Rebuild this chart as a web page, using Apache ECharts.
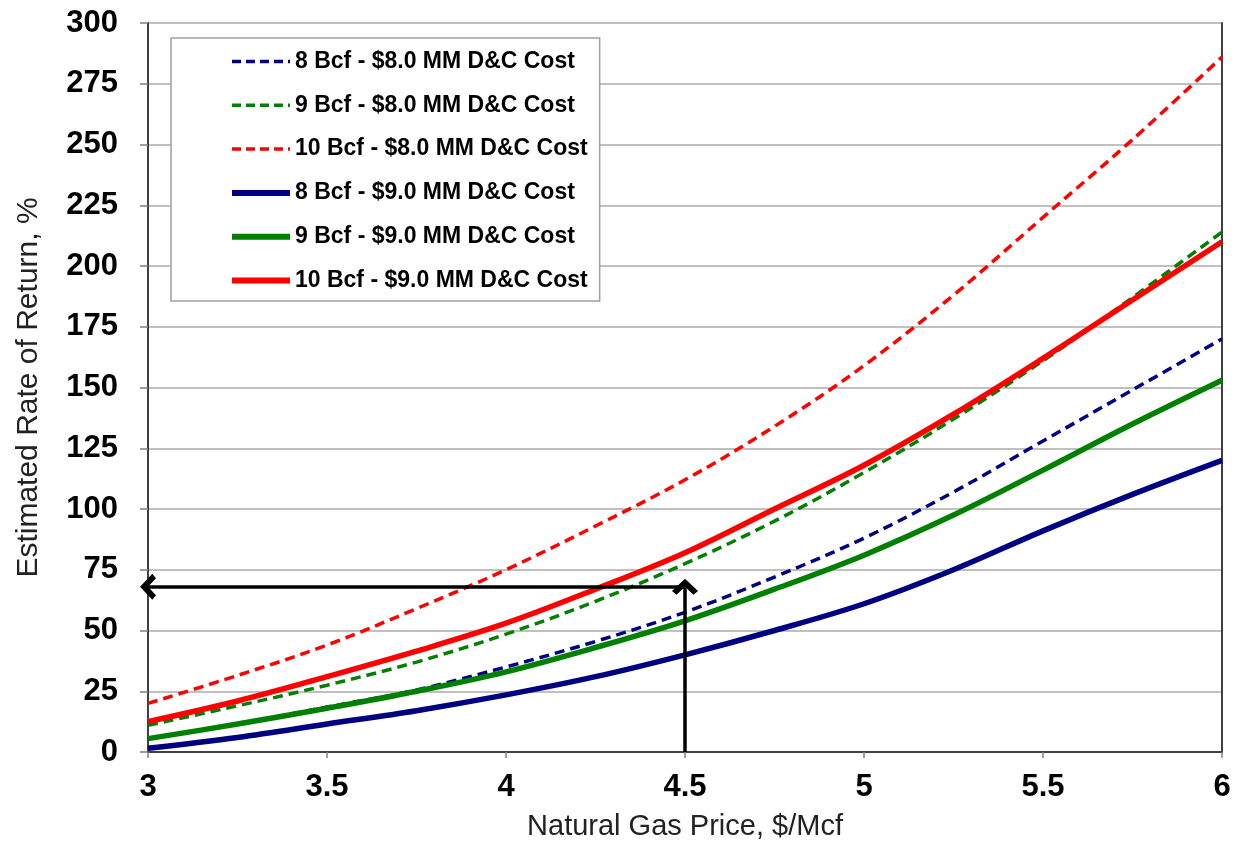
<!DOCTYPE html>
<html>
<head>
<meta charset="utf-8">
<script src="https://cdn.jsdelivr.net/npm/echarts@6/dist/echarts.min.js"></script>
<style>
html,body{margin:0;padding:0;background:#fff;}
#chart{width:1240px;height:846px;}
</style>
</head>
<body>
<div id="chart"></div>
<script>
const prices = [3, 3.25, 3.5, 3.75, 4, 4.25, 4.5, 4.75, 5, 5.25, 5.5, 5.75, 6];
const blue8 = [5.5, 11.5, 18.5, 25.5, 35, 45.5, 57.5, 72, 88, 107, 128, 149, 170];
const green8 = [11, 19, 27.5, 37, 48.5, 62, 77.5, 95, 115, 137, 161, 187, 214];
const red8 = [20, 31.5, 44, 59, 75, 93, 112, 134, 159, 188, 220, 252, 286];
const blue9 = [1.5, 6, 11.5, 17, 23.5, 31, 40, 50, 61, 75, 91, 106, 120];
const green9 = [5.5, 11.5, 18, 25, 33, 43, 54, 67, 81, 97.5, 116, 135, 153];
const red9 = [12.5, 21, 31, 41.5, 53, 67, 82, 100, 118, 139, 162, 186, 210];
const seriesNames = [
  '8 Bcf - $8.0 MM D&C Cost',
  '9 Bcf - $8.0 MM D&C Cost',
  '10 Bcf - $8.0 MM D&C Cost',
  '8 Bcf - $9.0 MM D&C Cost',
  '9 Bcf - $9.0 MM D&C Cost',
  '10 Bcf - $9.0 MM D&C Cost'
];
const arrowPrice = 4.5;
const arrowROR = 68;
const xMin = 3, xMax = 6, xStep = 0.5;
const yMin = 0, yMax = 300, yStep = 25;

const FONT = "'Liberation Sans', Arial, Helvetica, sans-serif";
const colors = ['#000080', '#008000', '#FF0000'];
const allData = [blue8, green8, red8, blue9, green9, red9];

function pairs(arr) { return prices.map((p, i) => [p, arr[i]]); }

const chevron = 'path://M0,10 L10,0 L20,10 L16.5,13 L10,6.5 L3.5,13 Z';

const series = allData.map((arr, i) => {
  const dashed = i < 3;
  return {
    name: seriesNames[i],
    type: 'line',
    data: pairs(arr),
    smooth: 0.35,
    symbol: 'none',
    silent: true,
    lineStyle: {
      color: colors[i % 3],
      width: dashed ? 3.5 : 5.5,
      type: dashed ? [10, 6] : 'solid'
    },
    itemStyle: { color: colors[i % 3] },
    z: dashed ? 2 : 3
  };
});

series.push({
  name: 'arrows',
  type: 'line',
  data: [],
  silent: true,
  markLine: {
    silent: true,
    symbol: ['none', chevron],
    symbolSize: [26, 16],
    label: { show: false },
    lineStyle: { color: '#000', width: 3.5, type: 'solid' },
    emphasis: { disabled: true },
    animation: false,
    data: [
      [{ coord: [arrowPrice, yMin] }, { coord: [arrowPrice, arrowROR] }],
      [{ coord: [arrowPrice, arrowROR] }, { coord: [xMin, arrowROR] }]
    ]
  },
  z: 4
});

const legendData = seriesNames.map((n, i) => ({
  name: n,
  lineStyle: { width: i < 3 ? 3.5 : 6, type: i < 3 ? [9, 5] : 'solid' }
}));

const chart = echarts.init(document.getElementById('chart'), null, { renderer: 'canvas' });
chart.setOption({
  animation: false,
  backgroundColor: '#fff',
  textStyle: { fontFamily: FONT },
  grid: { left: 148, top: 23, right: 18, bottom: 94, containLabel: false },
  legend: {
    data: legendData,
    orient: 'vertical',
    left: 171,
    top: 38,
    itemWidth: 58,
    itemHeight: 22,
    itemGap: 20.8,
    itemTextGap: 4,
    padding: [12, 12, 9, 58],
    borderColor: '#a0a0a0',
    borderWidth: 1.5,
    backgroundColor: '#fff',
    selectedMode: false,
    itemStyle: { opacity: 0 },
    textStyle: { fontFamily: FONT, fontSize: 23, fontWeight: 'bold', color: '#000' }
  },
  xAxis: {
    type: 'value',
    min: xMin, max: xMax, interval: xStep,
    name: 'Natural Gas Price, $/Mcf',
    nameLocation: 'middle',
    nameGap: 60,
    nameTextStyle: { fontFamily: FONT, fontSize: 29, color: '#222' },
    axisLine: { show: true, lineStyle: { color: '#404040', width: 2 } },
    axisTick: { show: true, length: 6, lineStyle: { color: '#808080', width: 1.5 } },
    axisLabel: { fontFamily: FONT, fontSize: 31, fontWeight: 'bold', color: '#000', margin: 20 },
    splitLine: { show: false }
  },
  yAxis: [{
    type: 'value',
    min: yMin, max: yMax, interval: yStep,
    name: 'Estimated Rate of Return, %',
    nameLocation: 'middle',
    nameGap: 104,
    nameTextStyle: { fontFamily: FONT, fontSize: 30, color: '#222' },
    axisLine: { show: true, lineStyle: { color: '#404040', width: 2 } },
    axisTick: { show: true, length: 8, lineStyle: { color: '#808080', width: 1.5 } },
    axisLabel: { fontFamily: FONT, fontSize: 31, fontWeight: 'bold', color: '#000', margin: 30 },
    splitLine: { show: true, lineStyle: { color: '#c0c0c0', width: 2 } }
  }, {
    type: 'value',
    position: 'right',
    min: yMin, max: yMax, interval: yStep,
    axisLine: { show: true, lineStyle: { color: '#404040', width: 2 } },
    axisTick: { show: false },
    axisLabel: { show: false },
    splitLine: { show: false }
  }],
  series: series
});
</script>
</body>
</html>
